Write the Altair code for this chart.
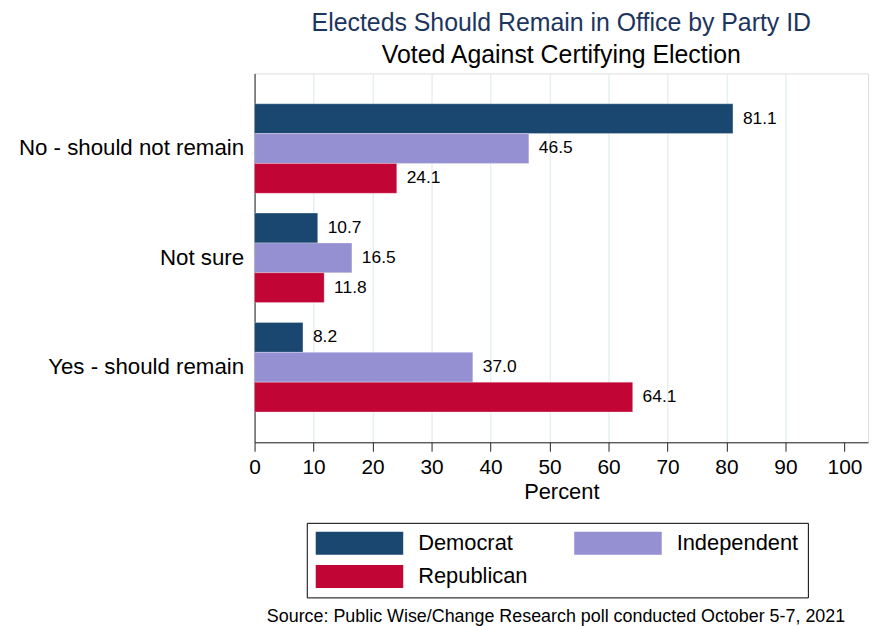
import altair as alt
import pandas as pd

responses = ["No - should not remain", "Not sure", "Yes - should remain"]
parties = ["Democrat", "Independent", "Republican"]
democrat = [81.1, 10.7, 8.2]
independent = [46.5, 16.5, 37.0]
republican = [24.1, 11.8, 64.1]
x_ticks = [0, 10, 20, 30, 40, 50, 60, 70, 80, 90, 100]
colors = ["#1a476f", "#9590d2", "#c10534"]
source_note = "Source: Public Wise/Change Research poll conducted October 5-7, 2021"

rows = []
for i, r in enumerate(responses):
    for p, vals in zip(parties, [democrat, independent, republican]):
        rows.append({"response": r, "party": p, "value": vals[i]})
df = pd.DataFrame(rows)

FONT = "Liberation Sans"

x_enc = alt.X(
    "value:Q",
    scale=alt.Scale(domain=[0, 104], nice=False, zero=True),
    axis=alt.Axis(
        values=x_ticks,
        title="Percent",
        titleFontSize=22,
        titleFont=FONT,
        titleFontWeight="normal",
        titleColor="black",
        titlePadding=5,
        labelFontSize=21,
        labelFont=FONT,
        labelColor="black",
        labelPadding=5,
        tickSize=9,
        tickColor="#222222",
        domainColor="#222222",
        grid=True,
        gridColor={"condition": {"test": "datum.value >= 100", "value": "transparent"},
                   "value": "#e6eff1"},
        gridWidth=1.5,
        labelFlush=False,
        labelOverlap=False,
    ),
)
y_enc = alt.Y(
    "response:N",
    sort=responses,
    scale=alt.Scale(paddingInner=0.1818, paddingOuter=0.2773),
    axis=alt.Axis(
        title=None,
        labelFontSize=22.4,
        labelFont=FONT,
        labelColor="black",
        labelPadding=11,
        ticks=False,
        domainColor="#222222",
        grid=False,
        labelLimit=400,
    ),
)
yoff = alt.YOffset("party:N", sort=parties, scale=alt.Scale(paddingInner=0, paddingOuter=0))

base = alt.Chart(df)

bars = base.mark_bar(stroke="white", strokeOpacity=0.35, strokeWidth=0.8).encode(
    x=x_enc,
    y=y_enc,
    yOffset=yoff,
    color=alt.Color(
        "party:N",
        sort=parties,
        scale=alt.Scale(domain=parties, range=colors),
        legend=alt.Legend(
            title=None,
            orient="none",
            direction="horizontal",
            legendX=52.5,
            legendY=452,
            columns=2,
            columnPadding=46,
            rowPadding=10.5,
            padding=9,
            strokeColor="black",
            symbolType="M-1,-1L6.652,-1L6.652,1L-1,1Z",
            symbolSize=529,
            symbolStrokeWidth=0,
            symbolOpacity=1,
            labelFontSize=22,
            labelFont=FONT,
            labelColor="black",
            labelOffset=80,
            labelLimit=300,
        ),
    ),
)

labels = base.mark_text(
    align="left", baseline="middle", dx=10, fontSize=17.5, font=FONT, color="black"
).encode(
    x=alt.X("value:Q"),
    y=alt.Y("response:N", sort=responses),
    yOffset=alt.YOffset("party:N", sort=parties),
    text=alt.Text("value:Q", format=".1f"),
)

note = alt.Chart(pd.DataFrame({"note": [source_note]})).mark_text(
    align="right", baseline="alphabetic", fontSize=18, font=FONT, color="black"
).encode(
    text="note:N",
    x=alt.value(594),
    y=alt.value(552),
)

chart = alt.layer(bars, labels, note).properties(
    width=617,
    height=371,
    padding={"left": 10, "top": 1, "right": 5, "bottom": 5},
    title=alt.TitleParams(
        text="Electeds Should Remain in Office by Party ID",
        subtitle="Voted Against Certifying Election",
        fontSize=25,
        font=FONT,
        fontWeight="normal",
        color="#1c355e",
        subtitleFontSize=25,
        subtitleFont=FONT,
        subtitleColor="black",
        subtitlePadding=8,
        anchor="middle",
        frame="group",
        offset=5,
    ),
).configure_view(stroke=None).configure_legend(strokeWidth=1).configure(background="white")

chart.save("out.html", embed_options={"renderer": "svg", "actions": False})
